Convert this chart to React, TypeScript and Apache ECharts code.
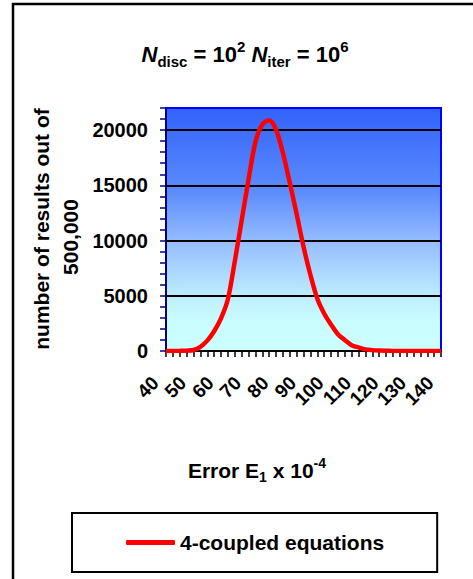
import React, { useEffect, useRef } from 'react';
import * as echarts from 'echarts';

const errorValues = [
  40, 42.5, 45, 47.5, 50, 52.5, 55, 57.5, 60, 62.5, 65, 67.5, 70, 72.5, 75, 77.5, 80, 82.5, 85, 87.5,
  90, 92.5, 95, 97.5, 100, 102.5, 105, 107.5, 110, 112.5, 115, 117.5, 120, 122.5, 125, 127.5, 130,
  132.5, 135, 137.5, 140,
];
const counts = [
  0, 0, 10, 30, 90, 380, 940, 1790, 2950, 4680, 8100, 11800, 15500, 18900, 20500, 20900, 20050,
  17950, 15250, 12400, 9450, 6900, 4750, 3400, 2400, 1520, 1000, 530, 330, 150, 80, 40, 20, 10, 5, 0,
  0, 0, 0, 0, 0,
];
const yGridValues = [5000, 10000, 15000, 20000];
const seriesName = '4-coupled equations';

const FONT = 'Arial, "Liberation Sans", sans-serif';

export default function App() {
  const ref = useRef<HTMLDivElement>(null);
  useEffect(() => {
    document.body.style.margin = '0';
    const chart = echarts.init(ref.current!, null, { renderer: 'svg' });
    const bg = new echarts.graphic.LinearGradient(0, 0, 0, 1, [
      { offset: 0, color: '#3262fb' },
      { offset: 0.35, color: '#5d8dfc' },
      { offset: 0.55, color: '#95bdff' },
      { offset: 0.78, color: '#bfeeff' },
      { offset: 0.88, color: '#c9fdfe' },
      { offset: 1, color: '#ccffff' },
    ]);
    const bold = { fontFamily: FONT, fontWeight: 'bold', fill: '#000' };
    chart.setOption({
      animation: false,
      grid: {
        left: 166,
        top: 108,
        right: 32,
        bottom: 228,
        show: true,
        backgroundColor: bg,
        borderColor: '#0000ff',
        borderWidth: 2,
      },
      xAxis: {
        type: 'value',
        min: 40,
        max: 140,
        interval: 2.5,
        axisLine: { show: true, onZero: false, lineStyle: { color: '#000', width: 2 } },
        axisTick: { show: true, length: 6, lineStyle: { color: '#000', width: 1.5 } },
        splitLine: { show: false },
        axisLabel: {
          rotate: 45,
          margin: 18,
          padding: [0, 15, 0, 0],
          fontFamily: FONT,
          fontWeight: 'bold',
          fontSize: 19,
          color: '#000',
          showMinLabel: true,
          showMaxLabel: true,
          formatter: (v: number) => (v % 10 === 0 ? String(v) : ''),
        },
      },
      yAxis: {
        type: 'value',
        min: 0,
        max: 22000,
        interval: 1000,
        axisLine: { show: true, lineStyle: { color: '#000080', width: 2 } },
        axisTick: { show: true, length: 6, lineStyle: { color: '#000080', width: 1.5 } },
        splitLine: { show: false },
        axisLabel: {
          margin: 18,
          fontFamily: FONT,
          fontWeight: 'bold',
          fontSize: 20,
          color: '#000',
          formatter: (v: number) => (v % 5000 === 0 ? String(v) : ''),
        },
      },
      legend: {
        data: [{ name: seriesName, icon: 'roundRect' }],
        left: 72,
        top: 513,
        itemWidth: 49,
        itemHeight: 5,
        padding: [19, 53, 19, 54],
        borderColor: '#000',
        borderWidth: 2,
        textStyle: { fontFamily: FONT, fontWeight: 'bold', fontSize: 21, color: '#000' },
      },
      series: [
        {
          name: 'grid',
          type: 'line',
          data: [],
          z: 1,
          silent: true,
          markLine: {
            silent: true,
            symbol: 'none',
            label: { show: false },
            lineStyle: { color: '#000', width: 2, type: 'solid' },
            data: yGridValues.map((v) => ({ yAxis: v })),
          },
        },
        {
          name: seriesName,
          type: 'line',
          z: 5,
          smooth: 0.3,
          symbol: 'none',
          color: '#ff0000',
          lineStyle: { color: '#ff0000', width: 4.5 },
          data: errorValues.map((x, i) => [x, counts[i]]),
        },
      ],
      graphic: [
        {
          type: 'rect',
          z: -10,
          shape: { x: 13, y: 4, width: 480, height: 600 },
          style: { fill: 'none', stroke: '#000', lineWidth: 2.5 },
        },
        {
          type: 'text',
          x: 245,
          y: 54,
          style: {
            text: '{n|N}{s|disc}{t| = 10}{p|2}{t| }{n|N}{s|iter}{t| = 10}{p|6}',
            align: 'center',
            verticalAlign: 'middle',
            ...bold,
            fontSize: 22,
            rich: {
              n: { ...bold, fontStyle: 'italic', fontSize: 22, lineHeight: 30 },
              t: { ...bold, fontSize: 22, lineHeight: 30 },
              s: { ...bold, fontSize: 15, lineHeight: 16, verticalAlign: 'bottom' },
              p: { ...bold, fontSize: 15, lineHeight: 16, verticalAlign: 'top' },
            },
          },
        },
        {
          type: 'text',
          x: 257,
          y: 470,
          style: {
            text: '{t|Error E}{s|1}{t| x 10}{p|-4}',
            align: 'center',
            verticalAlign: 'middle',
            ...bold,
            fontSize: 21,
            rich: {
              t: { ...bold, fontSize: 21, lineHeight: 28 },
              s: { ...bold, fontSize: 14, lineHeight: 15, verticalAlign: 'bottom' },
              p: { ...bold, fontSize: 14, lineHeight: 15, verticalAlign: 'top' },
            },
          },
        },
        {
          type: 'text',
          x: 41,
          y: 229,
          rotation: Math.PI / 2,
          style: {
            text: 'number of results out of',
            align: 'center',
            verticalAlign: 'middle',
            ...bold,
            fontSize: 21,
          },
        },
        {
          type: 'text',
          x: 70,
          y: 237,
          rotation: Math.PI / 2,
          style: {
            text: '500,000',
            align: 'center',
            verticalAlign: 'middle',
            ...bold,
            fontSize: 21,
          },
        },
      ],
    });
    return () => chart.dispose();
  }, []);
  return <div ref={ref} style={{ width: 473, height: 579 }} />;
}
